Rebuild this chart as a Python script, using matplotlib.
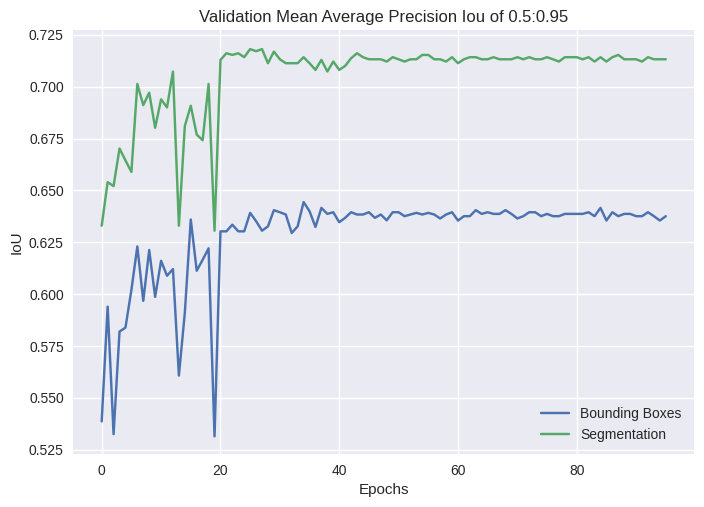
import numpy as np
import matplotlib
matplotlib.use("Agg")
import matplotlib.pyplot as plt

plt.style.use("seaborn-v0_8")
plt.rcParams["font.family"] = "sans-serif"
plt.rcParams["font.sans-serif"] = ["Liberation Sans", "DejaVu Sans"]

# IoU per epoch
bbox_iou = [
    0.5387, 0.5940, 0.5326, 0.5820, 0.5839, 0.6020, 0.6230, 0.5968, 0.6213, 0.5987,
    0.6161, 0.6089, 0.6121, 0.5608, 0.5911, 0.6360, 0.6113, 0.6166, 0.6221, 0.5315,
    0.6303, 0.6303, 0.6335, 0.6303, 0.6303, 0.6392, 0.6352, 0.6306, 0.6327, 0.6405,
    0.6395, 0.6384, 0.6295, 0.6327, 0.6444, 0.6400, 0.6324, 0.6416, 0.6387, 0.6395,
    0.6347, 0.6368, 0.6395, 0.6384, 0.6384, 0.6395, 0.6368, 0.6384, 0.6356, 0.6395,
    0.6395, 0.6376, 0.6384, 0.6392, 0.6384, 0.6392, 0.6384, 0.6365, 0.6384, 0.6395,
    0.6355, 0.6376, 0.6376, 0.6405, 0.6387, 0.6395, 0.6387, 0.6387, 0.6405, 0.6387,
    0.6365, 0.6376, 0.6395, 0.6395, 0.6376, 0.6387, 0.6376, 0.6376, 0.6387, 0.6387,
    0.6387, 0.6387, 0.6395, 0.6376, 0.6416, 0.6355, 0.6395, 0.6376, 0.6387, 0.6387,
    0.6376, 0.6376, 0.6395, 0.6376, 0.6355, 0.6376,
]
seg_iou = [
    0.6330, 0.6540, 0.6521, 0.6702, 0.6645, 0.6589, 0.7013, 0.6911, 0.6971, 0.6802,
    0.6939, 0.6900, 0.7073, 0.6330, 0.6811, 0.6908, 0.6769, 0.6742, 0.7013, 0.6306,
    0.7129, 0.7161, 0.7153, 0.7161, 0.7142, 0.7181, 0.7171, 0.7181, 0.7113, 0.7169,
    0.7132, 0.7113, 0.7113, 0.7113, 0.7142, 0.7113, 0.7081, 0.7129, 0.7073, 0.7121,
    0.7081, 0.7100, 0.7137, 0.7161, 0.7142, 0.7132, 0.7132, 0.7132, 0.7121, 0.7142,
    0.7132, 0.7121, 0.7132, 0.7132, 0.7153, 0.7153, 0.7132, 0.7132, 0.7121, 0.7142,
    0.7113, 0.7132, 0.7142, 0.7142, 0.7132, 0.7132, 0.7142, 0.7132, 0.7132, 0.7132,
    0.7142, 0.7132, 0.7142, 0.7132, 0.7132, 0.7142, 0.7132, 0.7121, 0.7142, 0.7142,
    0.7142, 0.7132, 0.7142, 0.7121, 0.7142, 0.7121, 0.7142, 0.7153, 0.7132, 0.7132,
    0.7132, 0.7121, 0.7142, 0.7132, 0.7132, 0.7132,
]
epochs = np.arange(len(bbox_iou))

fig = plt.figure(figsize=(7.04, 5.07), dpi=100)
ax = fig.add_axes([0.1044, 0.1045, 0.8814, 0.8363])
ax.plot(epochs, bbox_iou, label="Bounding Boxes")
ax.plot(epochs, seg_iou, label="Segmentation")
ax.set_title("Validation Mean Average Precision Iou of 0.5:0.95")
ax.set_xlabel("Epochs")
ax.set_ylabel("IoU")
ax.set_yticks(np.arange(0.525, 0.7251, 0.025))
ax.set_ylim(0.5230, 0.7273)
ax.legend(loc="lower right")
fig.savefig("out.png", dpi=100)
